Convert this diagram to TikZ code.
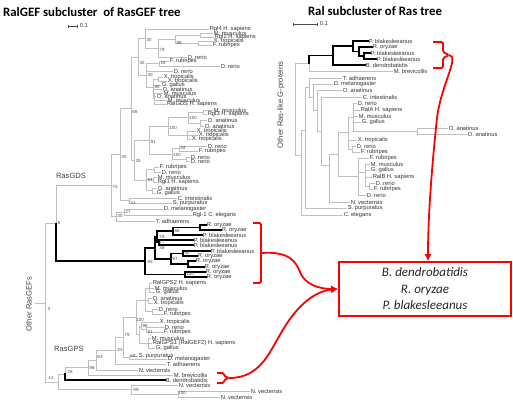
\documentclass[tikz,border=0pt]{standalone}
\usepackage{fontspec}
\setmainfont{Liberation Sans}
\newfontfamily\carl{Carlito}
\usepackage{tikz}
\usetikzlibrary{arrows.meta}

\begin{document}
\begin{tikzpicture}[x=1pt, y=-1pt,
font=\fontsize{5.8}{6}\selectfont,
lf/.style={anchor=west, inner sep=0.6pt, text=black!80},
bs/.style={inner sep=0pt, text=black!70, font=\fontsize{4.5}{4.5}\selectfont},
grp/.style={text=black!75, font=\fontsize{7.6}{8}\selectfont},
ttl/.style={inner sep=0pt, font=\carl\bfseries\fontsize{12.8}{13}\selectfont},
gb/.style={draw=black!25, line width=0.7pt, line cap=rect},
kb/.style={draw=black, line width=1.4pt, line cap=rect},
sbar/.style={draw=black!70, line width=0.6pt, {Bar[width=3pt]}-{Bar[width=3pt]}},
brk/.style={draw=red, line width=1.8pt, rounded corners=1.5pt},
arr/.style={draw=red, line width=1.8pt, -{Latex[length=7pt,width=7.5pt]}}
]
\useasboundingbox (0,0) rectangle (513,402);

\node[ttl, anchor=west] (t1) at (3,12) {RalGEF subcluster\ \ of RasGEF tree};
\node[ttl] (t2) at (375,11) {Ral subcluster of Ras tree};
\coordinate (sl1) at (68,26);
\coordinate (sl2) at (78,26);
\draw[sbar] (sl1) -- (sl2);
\node[lf] (sc1) at (79,26) {0.1};
\coordinate (sr1) at (293,24);
\coordinate (sr2) at (318,24);
\draw[sbar] (sr1) -- (sr2);
\node[lf] (sc2) at (319,24) {0.1};

\node[grp, rotate=90] (og) at (29,304) {Other RasGEFs};
\node[grp, rotate=90] (orl) at (281,105) {Other Ras-like G-proteins};
\node[grp] (gds) at (71,176) {RasGDS};
\node[grp] (gps) at (69,349) {RasGPS};

\node[lf] (a1) at (209,29) {Rgl4 H. sapiens};
\node[lf] (a2) at (213,33) {M. musculus};
\node[lf] (a3) at (214,37) {Rgl2 H. sapiens};
\node[lf] (a4) at (213,41) {X. tropicalis};
\node[lf] (a5) at (212,45) {F. rubripes};
\node[lf] (a6) at (187,57) {D. rerio};
\node[lf] (a7) at (169,61) {F. rubripes};
\node[lf] (a8) at (220,66) {D. rerio};
\node[lf] (a9) at (173,71) {D. rerio};
\node[lf] (a10) at (163,77) {X. tropicalis};
\node[lf] (a11) at (167,81) {X. tropicalis};
\node[lf] (a12) at (161,85) {G. gallus};
\node[lf] (a13) at (162,89) {O. anatinus};
\node[lf] (a14) at (163,93) {M. musculus};
\node[lf] (a15) at (156,96) {O. anatinus};
\node[lf] (a16) at (167,100) {M. musculus};
\node[lf] (a17) at (166,104) {RalGDS H. sapiens};
\node[lf] (a18) at (213,110) {M. musculus};
\node[lf] (a19) at (207,114) {Rgl3 H. sapiens};
\node[lf] (a20) at (207,120) {O. anatinus};
\node[lf] (a21) at (204,126) {O. anatinus};
\node[lf] (a22) at (196,131) {X. tropicalis};
\node[lf] (a23) at (198,135) {X. tropicalis};
\node[lf] (a24) at (191,139) {X. tropicalis};
\node[lf] (a25) at (207,146) {D. rerio};
\node[lf] (a26) at (198,151) {F. rubripes};
\node[lf] (a27) at (190,157) {D. rerio};
\node[lf] (a28) at (190,161) {D. rerio};
\node[lf] (a29) at (159,167) {F. rubripes};
\node[lf] (a30) at (161,172) {D. rerio};
\node[lf] (a31) at (157,177) {M. musculus};
\node[lf] (a32) at (157,182) {Rgl1 H. sapiens};
\node[lf] (a33) at (157,188) {O. anatinus};
\node[lf] (a34) at (156,193) {G. gallus};
\node[lf] (a35) at (177,198) {C. intestinalis};
\node[lf] (a36) at (172,203) {S. purpuratus};
\node[lf] (a37) at (163,209) {D. melanogaster};
\node[lf] (a38) at (192,215) {Rgl-1 C. elegans};
\node[lf] (a39) at (155,221) {T. adhaerens};
\node[lf] (f1) at (206,225) {R. oryzae};
\node[lf] (f2) at (221,230) {R. oryzae};
\node[lf] (f3) at (202,235) {P. blakesleeanus};
\node[lf] (f4) at (193,240) {P. blakesleeanus};
\node[lf] (f5) at (193,245) {P. blakesleeanus};
\node[lf] (f6) at (210,251) {P. blakesleeanus};
\node[lf] (f7) at (197,256) {R. oryzae};
\node[lf] (f8) at (195,261) {R. oryzae};
\node[lf] (f9) at (204,267) {R. oryzae};
\node[lf] (f10) at (205,272) {R. oryzae};
\node[lf] (f11) at (206,277) {R. oryzae};
\node[lf] (p1) at (152,283) {RalGPS2 H. sapiens};
\node[lf] (p2) at (154,288) {M. musculus};
\node[lf] (p3) at (155,292) {G. gallus};
\node[lf] (p4) at (152,298) {O. anatinus};
\node[lf] (p5) at (153,303) {X. tropicalis};
\node[lf] (p6) at (158,309) {D. rerio};
\node[lf] (p7) at (163,314) {F. rubripes};
\node[lf] (p8) at (159,322) {X. tropicalis};
\node[lf] (p9) at (164,327) {D. rerio};
\node[lf] (p10) at (163,332) {F. rubripes};
\node[lf] (p11) at (151,338) {M. musculus};
\node[lf] (p12) at (152,343) {RalGPS1 (RalGEF2) H. sapiens};
\node[lf] (p13) at (155,348) {G. gallus};
\node[lf] (p14) at (138,356) {S. purpuratus};
\node[lf] (p15) at (167,359) {D. melanogaster};
\node[lf] (p16) at (166,364) {T. adhaerens};
\node[lf] (p17) at (138,370) {N. vectensis};
\node[lf] (p18) at (173,375) {M. brevicollis};
\node[lf] (p19) at (165,380) {B. dendrobatidis};
\node[lf] (p20) at (178,385) {N. vectensis};
\node[lf] (p21) at (250,391) {N. vectensis};
\node[lf] (p22) at (220,397) {N. vectensis};

\coordinate (c1) at (200,35);
\coordinate (c2) at (198,43);
\coordinate (n88) at (175,39);
\coordinate (n79) at (158,48);
\coordinate (n30) at (145,38.5);
\coordinate (n24) at (159,63.5);
\coordinate (c3) at (158,79);
\coordinate (c4) at (154,98.5);
\coordinate (n68) at (153,87);
\coordinate (n40) at (146,75);
\coordinate (n45) at (138,57);
\coordinate (c5) at (203,112);
\coordinate (c6) at (200,123);
\coordinate (n100a) at (188,117.5);
\coordinate (c7) at (187,135);
\coordinate (n100b) at (168,126);
\coordinate (n54) at (179,148.5);
\coordinate (c8) at (186,159);
\coordinate (n100c) at (172,154);
\coordinate (n91) at (149,140);
\coordinate (c9) at (154,169.5);
\coordinate (c10) at (153,179.5);
\coordinate (c11) at (152,190.5);
\coordinate (n94) at (146,180);
\coordinate (n25) at (134,160);
\coordinate (n66) at (131,108.5);
\coordinate (n31) at (129,200.5);
\coordinate (n30b) at (120,154.5);
\coordinate (n27) at (124,212);
\coordinate (n30c) at (116,216.5);
\coordinate (n75) at (111,185.5);
\coordinate (n8) at (56,223.5);
\coordinate (s1) at (200,227.5);
\coordinate (n66f) at (173,231);
\coordinate (n17) at (159,242.5);
\coordinate (n78) at (157,237);
\coordinate (n92) at (183,253.5);
\coordinate (s2) at (188,264);
\coordinate (n87) at (171,259);
\coordinate (n38) at (155,248);
\coordinate (n100f) at (185,274.5);
\coordinate (n93) at (145,261);
\coordinate (c12) at (149,288);
\coordinate (c13) at (148,300.5);
\coordinate (c14) at (152,311.5);
\coordinate (c15) at (145,300);
\coordinate (n91g) at (146,329.5);
\coordinate (n96g) at (141,326);
\coordinate (c16) at (148,343);
\coordinate (c17) at (139,334.5);
\coordinate (n100g) at (136,317);
\coordinate (n68g) at (129,357.5);
\coordinate (n79g) at (123,337);
\coordinate (n43) at (115,350.5);
\coordinate (n63) at (96,360);
\coordinate (n96) at (88,367.5);
\coordinate (n28) at (65,374);
\coordinate (c18) at (178,394);
\coordinate (n99) at (131,389.5);
\coordinate (n12) at (58,382);
\coordinate (r0) at (45,303);
\coordinate (rs) at (35,303);

\draw[gb] (c1) |- (a2.west) (c1) |- (a3.west);
\draw[gb] (c2) |- (a4.west) (c2) |- (a5.west);
\draw[gb] (n88) |- (c1) (n88) |- (c2);
\draw[gb] (n79) |- (n88) (n79) |- (a6.west);
\draw[gb] (n30) |- (a1.west) (n30) |- (n79);
\draw[gb] (n24) |- (a7.west) (n24) |- (a8.west);
\draw[gb] (c3) |- (a10.west) (c3) |- (a11.west);
\draw[gb] (c4) |- (a14.west) (c4) |- (a15.west) (c4) |- (a16.west) (c4) |- (a17.west);
\draw[gb] (n68) |- (c3) (n68) |- (a12.west) (n68) |- (a13.west) (n68) |- (c4);
\draw[gb] (n40) |- (n24) (n40) |- (a9.west) (n40) |- (n68);
\draw[gb] (n45) |- (n30) (n45) |- (n40);
\draw[gb] (c5) |- (a18.west) (c5) |- (a19.west);
\draw[gb] (c6) |- (a20.west) (c6) |- (a21.west);
\draw[gb] (n100a) |- (c5) (n100a) |- (c6);
\draw[gb] (c7) |- (a22.west) (c7) |- (a23.west) (c7) |- (a24.west);
\draw[gb] (n100b) |- (n100a) (n100b) |- (c7);
\draw[gb] (n54) |- (a25.west) (n54) |- (a26.west);
\draw[gb] (c8) |- (a27.west) (c8) |- (a28.west);
\draw[gb] (n100c) |- (n54) (n100c) |- (c8);
\draw[gb] (n91) |- (n100b) (n91) |- (n100c);
\draw[gb] (c9) |- (a29.west) (c9) |- (a30.west);
\draw[gb] (c10) |- (a31.west) (c10) |- (a32.west);
\draw[gb] (c11) |- (a33.west) (c11) |- (a34.west);
\draw[gb] (n94) |- (c9) (n94) |- (c10) (n94) |- (c11);
\draw[gb] (n25) |- (n91) (n25) |- (n94);
\draw[gb] (n66) |- (n45) (n66) |- (n25);
\draw[gb] (n31) |- (a35.west) (n31) |- (a36.west);
\draw[gb] (n30b) |- (n66) (n30b) |- (n31);
\draw[gb] (n27) |- (a37.west) (n27) |- (a38.west);
\draw[gb] (n30c) |- (n27) (n30c) |- (a39.west);
\draw[gb] (n75) |- (n30b) (n75) |- (n30c);
\draw[gb] (n8) |- (n75);
\draw[gb] (c12) |- (p1.west) (c12) |- (p2.west) (c12) |- (p3.west);
\draw[gb] (c13) |- (p4.west) (c13) |- (p5.west);
\draw[gb] (c14) |- (p6.west) (c14) |- (p7.west);
\draw[gb] (c15) |- (c12) (c15) |- (c13) (c15) |- (c14);
\draw[gb] (n91g) |- (p9.west) (n91g) |- (p10.west);
\draw[gb] (n96g) |- (p8.west) (n96g) |- (n91g);
\draw[gb] (c16) |- (p11.west) (c16) |- (p12.west) (c16) |- (p13.west);
\draw[gb] (c17) |- (n96g) (c17) |- (c16);
\draw[gb] (n100g) |- (c15) (n100g) |- (c17);
\draw[gb] (n68g) |- (p14.west) (n68g) |- (p15.west);
\draw[gb] (n79g) |- (n100g) (n79g) |- (n68g);
\draw[gb] (n43) |- (n79g) (n43) |- (p16.west);
\draw[gb] (n63) |- (n43) (n63) |- (p17.west);
\draw[gb] (n96) |- (n63) (n96) |- (p18.west);
\draw[gb] (n28) |- (n96);
\draw[gb] (c18) |- (p21.west) (c18) |- (p22.west);
\draw[gb] (n99) |- (p20.west) (n99) |- (c18);
\draw[gb] (n12) |- (n28) (n12) |- (n99);
\draw[gb] (r0) |- (n8) (r0) |- (n12) (rs) -- (r0);
\draw[kb] (s1) |- (f1.west) (s1) |- (f2.west);
\draw[kb] (n66f) |- (s1) (n66f) |- (f3.west);
\draw[kb] (n17) |- (f4.west) (n17) |- (f5.west);
\draw[kb] (n78) |- (n66f) (n78) |- (n17);
\draw[kb] (n92) |- (f6.west) (n92) |- (f7.west);
\draw[kb] (s2) |- (f8.west) (s2) |- (f9.west);
\draw[kb] (n87) |- (n92) (n87) |- (s2);
\draw[kb] (n38) |- (n78) (n38) |- (n87);
\draw[kb] (n100f) |- (f10.west) (n100f) |- (f11.west);
\draw[kb] (n93) |- (n38) (n93) |- (n100f);
\draw[kb] (n8) |- (n93);
\draw[kb] (n28) |- (p19.west);

\node[bs] (b1) at (149,40) {30};
\node[bs] (b2) at (179,43) {88};
\node[bs] (b3) at (162,50) {79};
\node[bs] (b4) at (142,63) {45};
\node[bs] (b5) at (163,63) {24};
\node[bs] (b6) at (150,75) {40};
\node[bs] (b7) at (157,87) {68};
\node[bs] (b8) at (135,112) {66};
\node[bs] (b9) at (193,118) {100};
\node[bs] (b10) at (173,128) {100};
\node[bs] (b11) at (153,142) {91};
\node[bs] (b12) at (183,148) {54};
\node[bs] (b13) at (177,155) {100};
\node[bs] (b14) at (124,157) {30};
\node[bs] (b15) at (138,161) {25};
\node[bs] (b16) at (150,180) {94};
\node[bs] (b17) at (115,187) {75};
\node[bs] (b18) at (133,203) {31};
\node[bs] (b19) at (128,212) {27};
\node[bs] (b20) at (120,216) {30};
\node[bs] (b21) at (59,223) {8};
\node[bs] (b22) at (177,231) {66};
\node[bs] (b23) at (162,237) {78};
\node[bs] (b24) at (162,242) {17};
\node[bs] (b25) at (162,248) {38};
\node[bs] (b26) at (187,253) {92};
\node[bs] (b27) at (175,259) {87};
\node[bs] (b28) at (150,262) {93};
\node[bs] (b29) at (190,274) {100};
\node[bs] (b30) at (140,320) {100};
\node[bs] (b31) at (145,326) {96};
\node[bs] (b32) at (150,332) {91};
\node[bs] (b33) at (127,335) {79};
\node[bs] (b34) at (120,350) {43};
\node[bs] (b35) at (133,356) {68};
\node[bs] (b36) at (100,357) {63};
\node[bs] (b37) at (92,368) {96};
\node[bs] (b38) at (70,372) {28};
\node[bs] (b39) at (49,309) {3};
\node[bs] (b40) at (51,378) {12};
\node[bs] (b41) at (136,390) {99};
\node[bs] (b42) at (182,393) {100};

\node[lf] (r1) at (368,41) {P. blakesleeanus};
\node[lf] (r2) at (372,47) {R. oryzae};
\node[lf] (r3) at (370,53) {P. blakesleeanus};
\node[lf] (r4) at (376,59) {P. blakesleeanus};
\node[lf] (r5) at (365,65) {B. dendrobatidis};
\node[lf] (r6) at (393,71) {M. brevicollis};
\node[lf] (r7) at (342,78) {T. adhaerens};
\node[lf] (r8) at (333,84) {D. melanogaster};
\node[lf] (r9) at (342,90) {O. anatinus};
\node[lf] (r10) at (362,97) {C. intestinalis};
\node[lf] (r11) at (357,103) {D. rerio};
\node[lf] (r12) at (360,110) {RalA H. sapiens};
\node[lf] (r13) at (358,116) {M. musculus};
\node[lf] (r14) at (361,122) {G. gallus};
\node[lf] (r15) at (448,128) {O. anatinus};
\node[lf] (r16) at (467,134) {O. anatinus};
\node[lf] (r17) at (357,140) {X. tropicalis};
\node[lf] (r18) at (356,146) {D. rerio};
\node[lf] (r19) at (360,152) {F. rubripes};
\node[lf] (r20) at (369,158) {F. rubripes};
\node[lf] (r21) at (370,164) {M. musculus};
\node[lf] (r22) at (370,170) {G. gallus};
\node[lf] (r23) at (372,177) {RalB H. sapiens};
\node[lf] (r24) at (375,183) {D. rerio};
\node[lf] (r25) at (373,189) {F. rubripes};
\node[lf] (r26) at (366,195) {D. rerio};
\node[lf] (r27) at (350,202) {N. vectensis};
\node[lf] (r28) at (347,208) {S. purpuratus};
\node[lf] (r29) at (343,215) {C. elegans};

\coordinate (q4) at (364,56);
\coordinate (q3) at (359,51.5);
\coordinate (q2) at (353,46);
\coordinate (q1) at (333,55.5);
\coordinate (q0) at (309,63);
\coordinate (qo) at (417,131);
\coordinate (qa1) at (353,117);
\coordinate (qa2) at (352,149);
\coordinate (qa) at (348,132);
\coordinate (qb2) at (369,186);
\coordinate (qb1) at (365,172);
\coordinate (qb) at (358,176);
\coordinate (qv) at (338,154);
\coordinate (qw) at (329,165);
\coordinate (qg) at (321,131);
\coordinate (qf) at (317,110);
\coordinate (qe) at (313,97);
\coordinate (qd) at (309,87);
\coordinate (qc) at (305,130);
\coordinate (qb0) at (301,155);
\coordinate (qr) at (295,109);

\draw[gb] (q0) |- (r6.west);
\draw[gb] (qo) |- (r15.west) (qo) |- (r16.west);
\draw[gb] (qa1) |- (r11.west) (qa1) |- (r12.west) (qa1) |- (r13.west) (qa1) |- (r14.west) (qa1) |- (qo);
\draw[gb] (qa2) |- (r18.west) (qa2) |- (r19.west);
\draw[gb] (qa) |- (qa1) (qa) |- (r17.west) (qa) |- (qa2);
\draw[gb] (qb2) |- (r24.west) (qb2) |- (r25.west);
\draw[gb] (qb1) |- (r21.west) (qb1) |- (r22.west) (qb1) |- (r23.west) (qb1) |- (qb2);
\draw[gb] (qb) |- (r20.west) (qb) |- (qb1) (qb) |- (r26.west);
\draw[gb] (qv) |- (qa) (qv) |- (qb);
\draw[gb] (qw) |- (qv) (qw) |- (r27.west);
\draw[gb] (qg) |- (r10.west) (qg) |- (qw);
\draw[gb] (qf) |- (r9.west) (qf) |- (qg);
\draw[gb] (qe) |- (r8.west) (qe) |- (qf);
\draw[gb] (qd) |- (r7.west) (qd) |- (qe);
\draw[gb] (qc) |- (qd) (qc) |- (r28.west);
\draw[gb] (qb0) |- (qc) (qb0) |- (r29.west);
\draw[gb] (qr) |- (q0) (qr) |- (qb0);
\draw[kb] (q4) |- (r3.west) (q4) |- (r4.west);
\draw[kb] (q3) |- (r2.west) (q3) |- (q4);
\draw[kb] (q2) |- (r1.west) (q2) |- (q3);
\draw[kb] (q1) |- (q2) (q1) |- (r5.west);
\draw[kb] (q0) |- (q1);

\node[draw=red, line width=1.8pt, minimum width=172pt, minimum height=54pt, inner sep=0pt, align=center, text=black!85, font=\carl\itshape\fontsize{13}{16.5}\selectfont] (box) at (425,289) {B. dendrobatidis\\R. oryzae\\P. blakesleeanus};

\draw[brk] (253,223) -- (261,223) -- (261,283) -- (253,283);
\draw[brk] (217,373) -- (224,373) -- (224,376) -- (229,378) -- (224,380) -- (224,383) -- (217,383);
\draw[brk] (433,42) -- (443,42) -- (443,52) -- (449,55) -- (443,58) -- (443,68) -- (433,68);
\coordinate (k1) at (261,253);
\coordinate (k2) at (229,378);
\coordinate (k3) at (449,55);
\draw[arr] (k1) .. controls (290,251) and (296,262) .. (300,272) .. controls (305,285) and (320,289) .. (box.west);
\draw[arr] (k2) .. controls (262,378) and (270,350) .. (284,328) .. controls (298,305) and (315,291) .. (box.west);
\draw[arr] (k3) .. controls (460,56) and (441,85) .. (437,118) .. controls (432,165) and (428,215) .. ([xshift=3pt]box.north);
\end{tikzpicture}
\end{document}
